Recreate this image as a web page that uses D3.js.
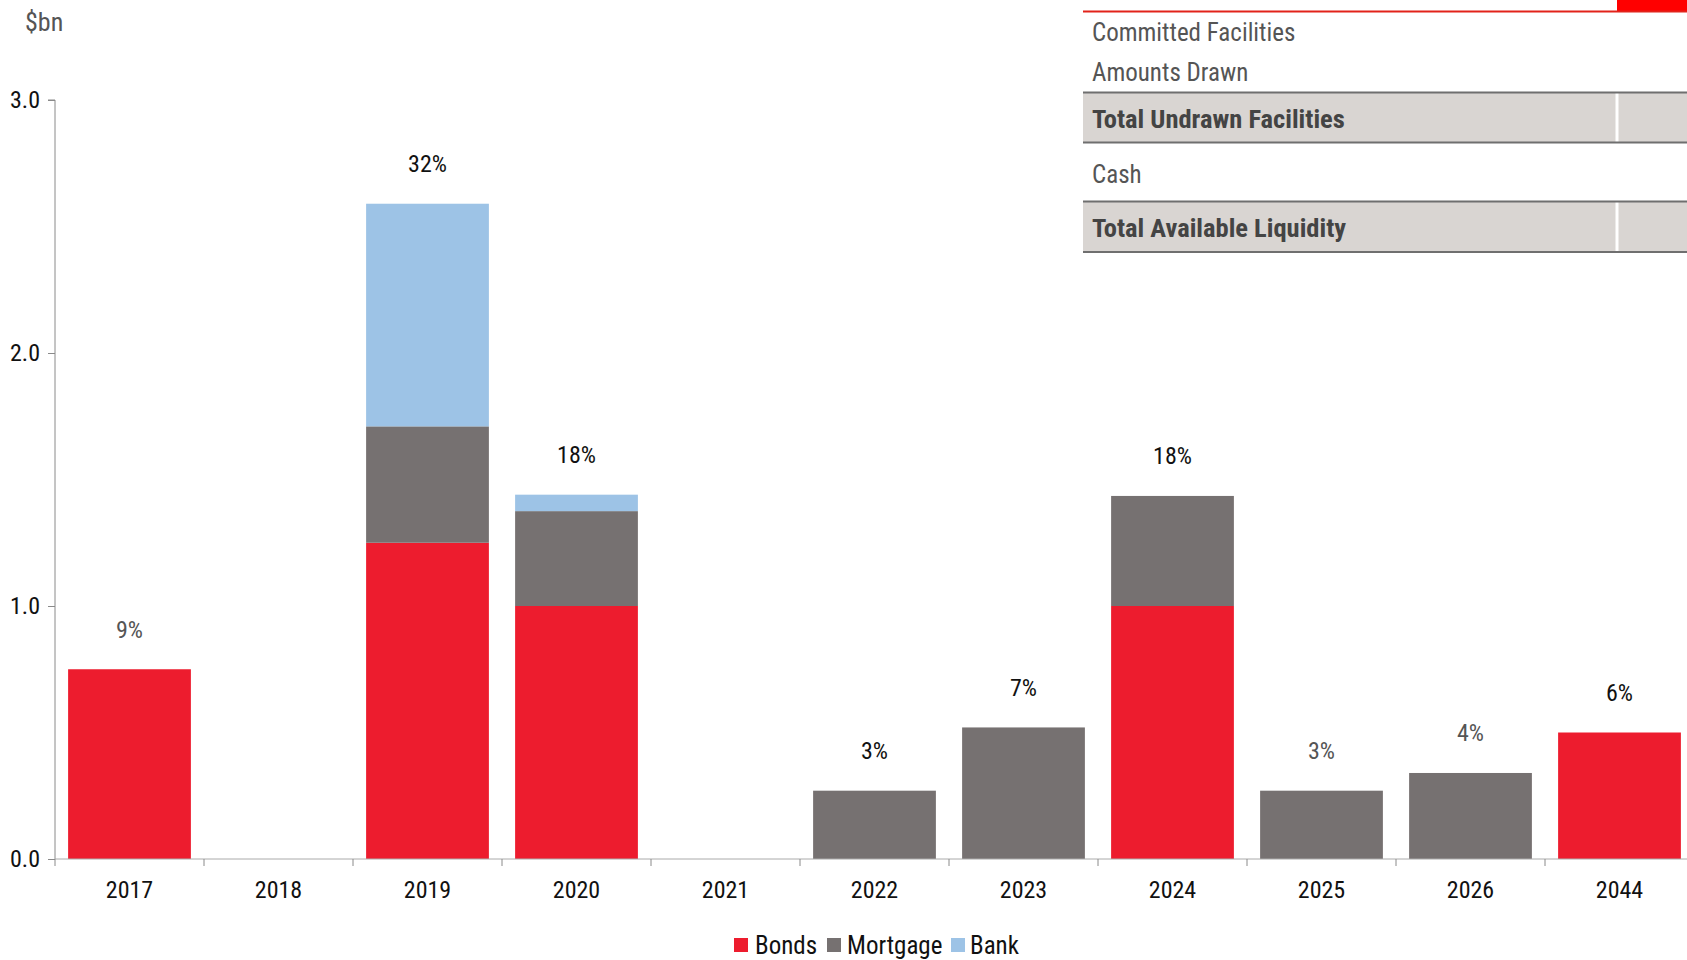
<!DOCTYPE html>
<html>
<head>
<meta charset="utf-8">
<script src="https://cdn.jsdelivr.net/npm/d3@7"></script>
<style>
  html, body { margin: 0; padding: 0; background: #fff; }
  svg { display: block; }
  text { font-family: "Liberation Sans Narrow", "Arial Narrow", "Roboto Condensed", "Liberation Sans", sans-serif; }
</style>
</head>
<body>
<svg id="chart" width="1687" height="960"></svg>
<script>
// ---- data ----
const years = ["2017", "2018", "2019", "2020", "2021", "2022", "2023", "2024", "2025", "2026", "2044"];
const bonds    = [0.75, 0, 1.25, 1.00, 0, 0,    0,    1.00,  0,    0,    0.50];
const mortgage = [0,    0, 0.46, 0.375, 0, 0.27, 0.52, 0.435, 0.27, 0.34, 0];
const bank     = [0,    0, 0.88, 0.065, 0, 0,    0,    0,     0,    0,    0];
const pctLabels = ["9%", "", "32%", "18%", "", "3%", "7%", "18%", "3%", "4%", "6%"];
const seriesNames = ["Bonds", "Mortgage", "Bank"];
const yTicks = [0, 1, 2, 3];
const yTickLabels = ["0.0", "1.0", "2.0", "3.0"];
const unitLabel = "$bn";
const tableRows = ["Committed Facilities", "Amounts Drawn", "Total Undrawn Facilities", "Cash", "Total Available Liquidity"];
const tableBold = [false, false, true, false, true];

// ---- styling ----
const colors = { Bonds: "#ED1C2E", Mortgage: "#767171", Bank: "#9DC3E6" };
const mutedLabelYears = new Set(["2017", "2025", "2026"]);

const svg = d3.select("#chart");
const W = 1687, H = 960;
const m = { left: 55, right: -7, top: 100, bottom: 101 };

const rows = years.map((y, i) => ({ year: y, Bonds: bonds[i], Mortgage: mortgage[i], Bank: bank[i] }));
const stacked = d3.stack().keys(seriesNames)(rows);

const x = d3.scaleBand().domain(years).range([m.left, W - m.right]).paddingInner(0).paddingOuter(0);
const y = d3.scaleLinear().domain([0, 3]).range([H - m.bottom, m.top]);
const barPad = x.bandwidth() * 0.088;
const barW = x.bandwidth() - 2 * barPad;

// bars
svg.append("g").selectAll("g").data(stacked).join("g")
  .attr("fill", d => colors[d.key])
  .selectAll("rect").data(d => d.filter(s => s[1] - s[0] > 0)).join("rect")
  .attr("x", d => x(d.data.year) + barPad)
  .attr("width", barW)
  .attr("y", d => y(d[1]))
  .attr("height", d => y(d[0]) - y(d[1]));

// percentage labels
const totals = rows.map(r => r.Bonds + r.Mortgage + r.Bank);
svg.append("g").selectAll("text").data(years).join("text")
  .attr("x", d => x(d) + x.bandwidth() / 2)
  .attr("y", (d, i) => y(totals[i]) - 40)
  .attr("dy", "0.35em")
  .attr("text-anchor", "middle")
  .attr("font-size", 24)
  .attr("fill", d => mutedLabelYears.has(d) ? "#555" : "#111")
  .text((d, i) => pctLabels[i]);

// y axis
const yAxis = d3.axisLeft(y).tickValues(yTicks).tickFormat((d, i) => yTickLabels[i]).tickSize(7).tickPadding(8);
const gy = svg.append("g").attr("transform", `translate(${m.left},0)`).call(yAxis);
gy.select(".domain").attr("stroke", "#8a8a8a").attr("d", `M-7,${y(3)}H0V${y(0)}`);
gy.selectAll(".tick line").attr("stroke", "#8a8a8a");
gy.selectAll(".tick text").attr("font-size", 24).attr("fill", "#111")
  .style("font-family", '"Liberation Sans Narrow", "Arial Narrow", "Roboto Condensed", "Liberation Sans", sans-serif');

// x axis
const xAxis = d3.axisBottom(x).tickSize(0).tickPadding(22);
const gx = svg.append("g").attr("transform", `translate(0,${y(0)})`).call(xAxis);
gx.select(".domain").attr("stroke", "#aaaaaa").attr("d", `M${m.left},0H${W}`);
gx.selectAll(".tick text").attr("font-size", 24).attr("fill", "#111")
  .style("font-family", '"Liberation Sans Narrow", "Arial Narrow", "Roboto Condensed", "Liberation Sans", sans-serif');
// category boundary ticks
gx.append("g").selectAll("line").data(years).join("line")
  .attr("x1", d => x(d)).attr("x2", d => x(d))
  .attr("y1", 0).attr("y2", 7)
  .attr("stroke", "#8a8a8a");

// unit label
svg.append("text").attr("x", 25).attr("y", 22).attr("dy", "0.35em")
  .attr("font-size", 26).attr("fill", "#555").text(unitLabel);

// legend
const legendItems = [
  { name: "Bonds", sx: 734, tx: 755 },
  { name: "Mortgage", sx: 827, tx: 847 },
  { name: "Bank", sx: 951, tx: 970 }
];
const lg = svg.append("g");
legendItems.forEach(it => {
  lg.append("rect").attr("x", it.sx).attr("y", 938).attr("width", 14).attr("height", 14).attr("fill", colors[it.name]);
  lg.append("text").attr("x", it.tx).attr("y", 945).attr("dy", "0.35em")
    .attr("font-size", 25).attr("fill", "#111").text(it.name);
});

// table (top right)
const tg = svg.append("g");
const tLeft = 1083, tSplit = 1617;
tg.append("rect").attr("x", tSplit).attr("y", 0).attr("width", W - tSplit).attr("height", 11).attr("fill", "#FF0000");
tg.append("line").attr("x1", tLeft).attr("x2", W).attr("y1", 11.5).attr("y2", 11.5).attr("stroke", "#E2231A").attr("stroke-width", 2);
const shaded = [[92.5, 142.5], [201.5, 252]];
shaded.forEach(([a, b]) => {
  tg.append("rect").attr("x", tLeft).attr("y", a).attr("width", W - tLeft).attr("height", b - a).attr("fill", "#D9D5D2");
  tg.append("line").attr("x1", tSplit).attr("x2", tSplit).attr("y1", a).attr("y2", b).attr("stroke", "#fff").attr("stroke-width", 3);
  tg.append("line").attr("x1", tLeft).attr("x2", W).attr("y1", a).attr("y2", a).attr("stroke", "#6f6f6f").attr("stroke-width", 2);
  tg.append("line").attr("x1", tLeft).attr("x2", W).attr("y1", b).attr("y2", b).attr("stroke", "#6f6f6f").attr("stroke-width", 2);
});
const rowY = [32, 72, 119, 174, 228];
tg.selectAll("text.row").data(tableRows).join("text")
  .attr("class", "row")
  .attr("x", 1092)
  .attr("y", (d, i) => rowY[i])
  .attr("dy", "0.35em")
  .attr("font-size", (d, i) => tableBold[i] ? 26.5 : 25)
  .attr("font-weight", (d, i) => tableBold[i] ? "bold" : "normal")
  .attr("fill", (d, i) => tableBold[i] ? "#444" : "#555")
  .text(d => d);
</script>
</body>
</html>
